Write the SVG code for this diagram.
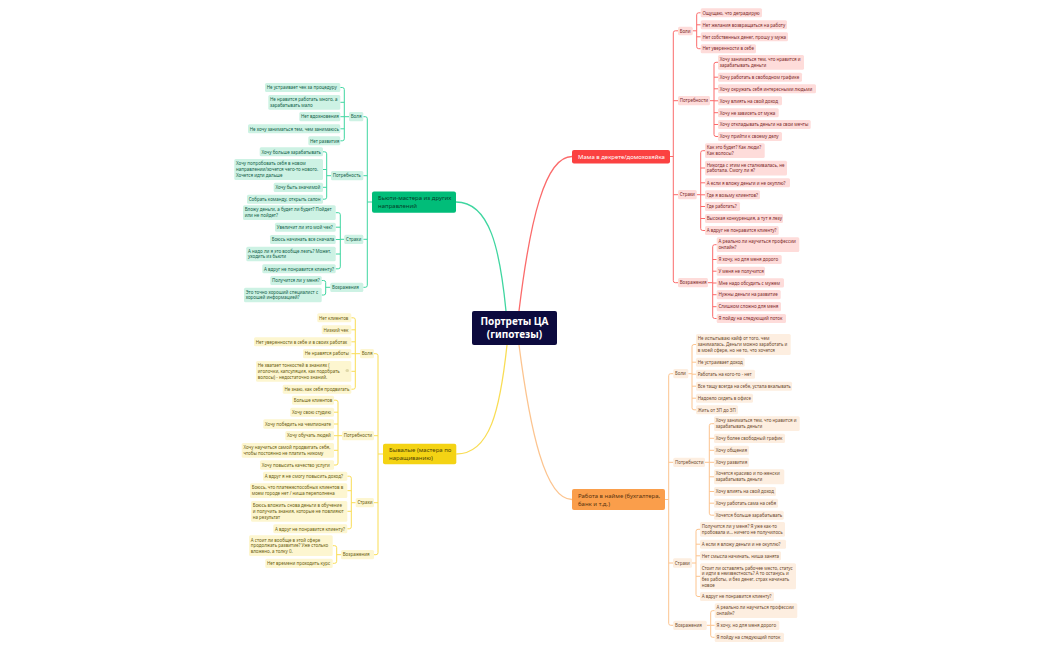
<svg xmlns="http://www.w3.org/2000/svg" width="1050" height="650" viewBox="0 0 1050 650">
<style>
text{font-family:"Noto Sans","DejaVu Sans",sans-serif;font-size:4.5px}
rect{rx:1.5px}
.r rect{fill:#fedcda}.r text{fill:#7d2b2b}
.o rect{fill:#fdeee0}.o text{fill:#6e4c30}
.g rect{fill:#cdf2e4}.g text{fill:#14624a}
.y rect{fill:#fdf6d0}.y text{fill:#6b5e10}
.c path{fill:none;stroke-width:1}
.c path.main{stroke-width:1.3}
.cr{stroke:#fb6b6b}.co{stroke:#fcc48f}.cg{stroke:#3fd6a0}.cy{stroke:#f9dd55}
.m text{font-size:6px}
.m rect{rx:2px}
#root rect{fill:#0c0a3e;rx:2px}
#root text{fill:#fff;font-size:10px;font-weight:700;text-anchor:middle}
#mom rect{fill:#fb4141}#mom text{fill:#fff}
#job rect{fill:#fa9e4b}#job text{fill:#5a3410}
#beauty rect{fill:#01bd79}#beauty text{fill:#063d2a}
#vet rect{fill:#f4d314}#vet text{fill:#4f4508}
</style>
<rect width="1050" height="650" fill="#fff" style="rx:0"/>
<g id="connectors" class="c">
<path class="cr main" d="M519 311C530 220 545 156.500 572 156.500"/>
<path class="cr" d="M670 156.500H673.300M678 30.800H675.300Q673.300 30.800 673.300 32.800V280.700Q673.300 282.700 675.300 282.700H678M673.300 100.700H678M673.300 194.700H678"/>
<path class="cr" d="M692.700 30.800H696.700M700.700 12.800H698.700Q696.700 12.800 696.700 14.800V46.700Q696.700 48.700 698.700 48.700H700.700M696.700 24.800H700.700M696.700 36.800H700.700"/>
<path class="cr" d="M710 100.700H714M718 62.300H716Q714 62.300 714 64.300V134.500Q714 136.500 716 136.500H718M714 77.200H718M714 88.800H718M714 100.800H718M714 112.700H718M714 124.500H718"/>
<path class="cr" d="M696.700 194.700H700.700M705 150.700H702.700Q700.700 150.700 700.700 152.700V228.500Q700.700 230.500 702.700 230.500H705M700.700 168H705M700.700 182.800H705M700.700 194.800H705M700.700 206.500H705M700.700 218.500H705"/>
<path class="cr" d="M708 282.700H712.700M716.700 244.700H714.700Q712.700 244.700 712.700 246.700V316.500Q712.700 318.500 714.700 318.500H716.700M712.700 259.500H716.700M712.700 271.200H716.700M712.700 283H716.700M712.700 294.700H716.700M712.700 306.700H716.700"/>
<path class="co main" d="M519 345C530 430 545 499.500 572 499.500"/>
<path class="co" d="M665 499.500H668.700M673.300 373.700H670.700Q668.700 373.700 668.700 375.700V623.300Q668.700 625.300 670.700 625.300H673.300M668.700 462.300H673.300M668.700 563H673.300"/>
<path class="co" d="M688.300 373.700H692M696 344.500H694Q692 344.500 692 346.500V407.800Q692 409.800 694 409.800H696M692 362.200H696M692 374.200H696M692 386.200H696M692 398.200H696"/>
<path class="co" d="M705 462.300H709.300M714 423.700H711.300Q709.300 423.700 709.300 425.700V513.200Q709.300 515.200 711.300 515.200H714M709.300 438.300H714M709.300 450.300H714M709.300 462.300H714M709.300 476.800H714M709.300 491.500H714M709.300 503.200H714"/>
<path class="co" d="M692 563H696M700 529.300H698Q696 529.300 696 531.300V594.500Q696 596.500 698 596.500H700M696 544.200H700M696 555.800H700M696 576.300H700"/>
<path class="co" d="M706.700 625.300H710.700M714.700 610.700H712.700Q710.700 610.700 710.700 612.700V635.300Q710.700 637.300 712.700 637.300H714.700M710.700 625.300H714.700"/>
<path class="cg main" d="M506 311C500 250 490 202 456 202"/>
<path class="cg" d="M372 202H367.300M363.300 116.700H365.300Q367.300 116.700 367.300 118.700V285.300Q367.300 287.300 365.300 287.300H363.300M367.300 175.700H363.300M367.300 239.300H363.300"/>
<path class="cg" d="M349 116.700H344.300M340.300 87.500H342.300Q344.300 87.500 344.300 89.500V138.800Q344.300 140.800 342.300 140.800H340.300M344.300 102.300H340.300M344.300 116.700H340.300M344.300 128.800H340.300"/>
<path class="cg" d="M331 175.700H326.700M323 151.800H324.700Q326.700 151.800 326.700 153.800V197.200Q326.700 199.200 324.700 199.200H323M326.700 169.500H323M326.700 187.300H323"/>
<path class="cg" d="M344.300 239.300H340.300M335.700 212.700H338.300Q340.300 212.700 340.300 214.700V266.800Q340.300 268.800 338.300 268.800H335.700M340.300 227.200H335.700M340.300 239.500H335.700M340.300 254H335.700"/>
<path class="cg" d="M330.300 287.300H325.700M321.700 280.500H323.700Q325.700 280.500 325.700 282.500V293Q325.700 295 323.700 295H321.700"/>
<path class="cy main" d="M507 345C500 410 490 454 456.300 454"/>
<path class="cy" d="M383 454H378M374 353.700H376Q378 353.700 378 355.700V552.700Q378 554.700 376 554.700H374M378 435.700H374M378 502.700H374"/>
<path class="cy" d="M360 353.700H355.300M351.300 317.800H353.300Q355.300 317.800 355.300 319.800V387.200Q355.300 389.200 353.300 389.200H351.300M355.300 329.800H351.300M355.300 341.800H351.300M355.300 353.700H351.300M355.300 371.300H351.300"/>
<path class="cy" d="M342 435.700H338M334 400.200H336Q338 400.200 338 402.200V463Q338 465 336 465H334M338 412.200H334M338 424H334M338 435.700H334M338 450.300H334"/>
<path class="cy" d="M355.700 502.700H351.300M347.300 476.200H349.300Q351.300 476.200 351.300 478.200V526.800Q351.300 528.800 349.300 528.800H347.300M351.300 490.700H347.300M351.300 511.300H347.300"/>
<path class="cy" d="M341 554.700H336.700M332.700 545.700H334.700Q336.700 545.700 336.700 547.700V561.300Q336.700 563.300 334.700 563.300H332.700"/>
</g>
<g id="root"><rect x="472" y="311" width="85" height="34"/><text x="514.500" y="325">Портреты ЦА</text><text x="514.500" y="337.500">(гипотезы)</text></g>
<g id="mom" class="m"><rect x="572" y="150" width="98" height="13.500"/><text x="578" y="158.900">Мама в декрете/домохозяйка</text></g>
<g id="job" class="m"><rect x="572" y="489" width="93" height="21"/><text x="578" y="497.700">Работа в найме (бухгалтера,</text><text x="578" y="505.700">банк и т.д.)</text></g>
<g id="beauty" class="m"><rect x="372" y="191.500" width="84" height="21.200"/><text x="378" y="200.300">Бьюти-мастера из других</text><text x="378" y="208.300">направлений</text></g>
<g id="vet" class="m"><rect x="383" y="443.700" width="73.300" height="20.600"/><text x="389" y="452.300">Бывалые (мастера по</text><text x="389" y="460.300">наращиванию)</text></g>
<g class="r">
<g id="r1"><rect x="678" y="26.700" width="14.700" height="8.500"/><text x="679.700" y="32.700">Боли</text></g>
<g id="r1a"><rect x="700.700" y="8.300" width="61.300" height="9"/><text x="702.400" y="14.500">Ощущаю, что деградирую</text></g>
<g id="r1b"><rect x="700.700" y="20.300" width="86.300" height="9"/><text x="702.400" y="26.500">Нет желания возвращаться на работу</text></g>
<g id="r1c"><rect x="700.700" y="32.300" width="87.300" height="9"/><text x="702.400" y="38.500">Нет собственных денег, прошу у мужа</text></g>
<g id="r1d"><rect x="700.700" y="44.200" width="55.300" height="9"/><text x="702.400" y="50.400">Нет уверенности в себе</text></g>
<g id="r2"><rect x="678" y="96" width="32" height="9.300"/><text x="679.700" y="102.400">Потребности</text></g>
<g id="r2a"><rect x="718" y="55" width="86" height="14.700"/><text x="719.700" y="61">Хочу заниматься тем, что нравится и</text><text x="719.700" y="66.700">зарабатывать деньги</text></g>
<g id="r2b"><rect x="718" y="72.700" width="84" height="9"/><text x="719.700" y="78.900">Хочу работать в свободном графике</text></g>
<g id="r2c"><rect x="718" y="84.300" width="98" height="9"/><text x="719.700" y="90.500">Хочу окружать себя интересными людьми</text></g>
<g id="r2d"><rect x="718" y="96.300" width="64" height="9"/><text x="719.700" y="102.500">Хочу влиять на свой доход</text></g>
<g id="r2e"><rect x="718" y="108.300" width="60.700" height="9"/><text x="719.700" y="114.500">Хочу не зависеть от мужа</text></g>
<g id="r2f"><rect x="718" y="120" width="92.700" height="9"/><text x="719.700" y="126.200">Хочу откладывать деньги на свои мечты</text></g>
<g id="r2g"><rect x="718" y="132" width="64" height="9"/><text x="719.700" y="138.200">Хочу прийти к своему делу</text></g>
<g id="r3"><rect x="678" y="190" width="18.700" height="9.300"/><text x="679.700" y="196.400">Страхи</text></g>
<g id="r3a"><rect x="705" y="143.300" width="59.700" height="14.700"/><text x="706.700" y="149.300">Как это будет? Как люди?</text><text x="706.700" y="155">Как волосы?</text></g>
<g id="r3b"><rect x="705" y="160.700" width="82" height="14.700"/><text x="706.700" y="166.700">Никогда с этим не сталкивалась, не</text><text x="706.700" y="172.400">работала. Смогу ли я?</text></g>
<g id="r3c"><rect x="705" y="178.300" width="85" height="9"/><text x="706.700" y="184.500">А если я вложу деньги и не окуплю?</text></g>
<g id="r3d"><rect x="705" y="190.300" width="55" height="9"/><text x="706.700" y="196.500">Где я возьму клиентов?</text></g>
<g id="r3e"><rect x="705" y="202" width="35" height="9"/><text x="706.700" y="208.200">Где работать?</text></g>
<g id="r3f"><rect x="705" y="214" width="78" height="9"/><text x="706.700" y="220.200">Высокая конкуренция, а тут я лезу</text></g>
<g id="r3g"><rect x="705" y="226" width="73.700" height="9"/><text x="706.700" y="232.200">А вдруг не понравится клиенту?</text></g>
<g id="r4"><rect x="678" y="278" width="30" height="9.300"/><text x="679.700" y="284.400">Возражения</text></g>
<g id="r4a"><rect x="716.700" y="237.300" width="82.600" height="14.700"/><text x="718.400" y="243.300">А реально ли научиться профессии</text><text x="718.400" y="249">онлайн?</text></g>
<g id="r4b"><rect x="716.700" y="255" width="65" height="9"/><text x="718.400" y="261.200">Я хочу, но для меня дорого</text></g>
<g id="r4c"><rect x="716.700" y="266.700" width="48.300" height="9"/><text x="718.400" y="272.900">У меня не получится</text></g>
<g id="r4d"><rect x="716.700" y="278.300" width="67.300" height="9.300"/><text x="718.400" y="284.700">Мне надо обсудить с мужем</text></g>
<g id="r4e"><rect x="716.700" y="290" width="64" height="9.300"/><text x="718.400" y="296.400">Нужны деньги на развитие</text></g>
<g id="r4f"><rect x="716.700" y="302" width="64.300" height="9.300"/><text x="718.400" y="308.400">Слишком сложно для меня</text></g>
<g id="r4g"><rect x="716.700" y="314" width="69.300" height="9"/><text x="718.400" y="320.200">Я пойду на следующий поток</text></g>
</g>
<g class="o">
<g id="o1"><rect x="673.300" y="369" width="15" height="9.300"/><text x="675" y="375.400">Боли</text></g>
<g id="o1a"><rect x="696" y="334" width="94.700" height="21"/><text x="697.700" y="340.200">Не испытываю кайф от того, чем</text><text x="697.700" y="345.900">занималась. Деньги можно заработать и</text><text x="697.700" y="351.600">в моей сфере, но не то, что хочется</text></g>
<g id="o1b"><rect x="696" y="357.700" width="48.700" height="9"/><text x="697.700" y="363.900">Не устраивает доход</text></g>
<g id="o1c"><rect x="696" y="369.700" width="59" height="9"/><text x="697.700" y="375.900">Работать на кого-то - нет</text></g>
<g id="o1d"><rect x="696" y="381.700" width="96" height="9"/><text x="697.700" y="387.900">Все тащу всегда на себе, устала вкалывать</text></g>
<g id="o1e"><rect x="696" y="393.700" width="57" height="9"/><text x="697.700" y="399.900">Надоело сидеть в офисе</text></g>
<g id="o1f"><rect x="696" y="405.300" width="42" height="9"/><text x="697.700" y="411.500">Жить от ЗП до ЗП</text></g>
<g id="o2"><rect x="673.300" y="457.700" width="31.700" height="9.300"/><text x="675" y="464.100">Потребности</text></g>
<g id="o2a"><rect x="714" y="416.300" width="85.700" height="14.700"/><text x="715.700" y="422.300">Хочу заниматься тем, что нравится и</text><text x="715.700" y="428">зарабатывать деньги</text></g>
<g id="o2b"><rect x="714" y="433.700" width="71" height="9.300"/><text x="715.700" y="440.100">Хочу более свободный график</text></g>
<g id="o2c"><rect x="714" y="445.700" width="35" height="9.300"/><text x="715.700" y="452.100">Хочу общения</text></g>
<g id="o2d"><rect x="714" y="457.700" width="35" height="9.300"/><text x="715.700" y="464.100">Хочу развития</text></g>
<g id="o2e"><rect x="714" y="469.300" width="70.300" height="15"/><text x="715.700" y="475.300">Хочется красиво и по-женски</text><text x="715.700" y="481">зарабатывать деньги</text></g>
<g id="o2f"><rect x="714" y="487" width="62" height="9"/><text x="715.700" y="493.200">Хочу влиять на свой доход</text></g>
<g id="o2g"><rect x="714" y="498.700" width="64" height="9"/><text x="715.700" y="504.900">Хочу работать сама на себя</text></g>
<g id="o2h"><rect x="714" y="510.700" width="69.700" height="9"/><text x="715.700" y="516.900">Хочется больше зарабатывать</text></g>
<g id="o3"><rect x="673" y="558.300" width="19" height="9.400"/><text x="674.700" y="564.800">Страхи</text></g>
<g id="o3a"><rect x="700" y="522" width="85" height="14.700"/><text x="701.700" y="528">Получится ли у меня? Я уже как-то</text><text x="701.700" y="533.700">пробовала и... ничего не получилось</text></g>
<g id="o3b"><rect x="700" y="539.700" width="86" height="9"/><text x="701.700" y="545.900">А если я вложу деньги и не окуплю?</text></g>
<g id="o3c"><rect x="700" y="551.300" width="81" height="9"/><text x="701.700" y="557.500">Нет смысла начинать, ниша занята</text></g>
<g id="o3d"><rect x="700" y="563.300" width="96" height="26"/><text x="701.700" y="569.500">Стоит ли оставлять рабочее место, статус</text><text x="701.700" y="575.200">и идти в неизвестность? А то останусь и</text><text x="701.700" y="580.900">без работы, и без денег, страх начинать</text><text x="701.700" y="586.600">новое</text></g>
<g id="o3e"><rect x="700" y="592" width="74" height="9"/><text x="701.700" y="598.200">А вдруг не понравится клиенту?</text></g>
<g id="o4"><rect x="673.300" y="620.700" width="33.400" height="9.300"/><text x="675" y="627.100">Возражения</text></g>
<g id="o4a"><rect x="714.700" y="603.300" width="82.600" height="14.700"/><text x="716.400" y="609.300">А реально ли научиться профессии</text><text x="716.400" y="615">онлайн?</text></g>
<g id="o4b"><rect x="714.700" y="620.700" width="64.600" height="9.300"/><text x="716.400" y="627.100">Я хочу, но для меня дорого</text></g>
<g id="o4c"><rect x="714.700" y="632.700" width="69.300" height="9.300"/><text x="716.400" y="639.100">Я пойду на следующий поток</text></g>
</g>
<g class="g">
<g id="g1"><rect x="349" y="112" width="14.300" height="9.300"/><text x="350.700" y="118.400">Воля</text></g>
<g id="g1a"><rect x="265" y="83" width="75.300" height="9"/><text x="266.700" y="89.200">Не устраивает чек за процедуру</text></g>
<g id="g1b"><rect x="268.300" y="95" width="72" height="14.700"/><text x="270" y="101">Не нравится работать много, а</text><text x="270" y="106.700">зарабатывать мало</text></g>
<g id="g1c"><rect x="299.300" y="112" width="41" height="9.300"/><text x="301" y="118.400">Нет вдохновения</text></g>
<g id="g1d"><rect x="248" y="124.300" width="92.300" height="9"/><text x="249.700" y="130.500">Не хочу заниматься тем, чем занимаюсь</text></g>
<g id="g1e"><rect x="308.300" y="136.300" width="32" height="9"/><text x="310" y="142.500">Нет развития</text></g>
<g id="g2"><rect x="331" y="171" width="32.300" height="9.300"/><text x="332.700" y="177.400">Потребность</text></g>
<g id="g2a"><rect x="259.700" y="147.300" width="63.300" height="9"/><text x="261.400" y="153.500">Хочу больше зарабатывать</text></g>
<g id="g2b"><rect x="234.300" y="159" width="88.700" height="21"/><text x="236" y="165.200">Хочу попробовать себя в новом</text><text x="236" y="170.900">направлении/хочется чего-то нового.</text><text x="236" y="176.600">Хочется идти дальше</text></g>
<g id="g2c"><rect x="273.700" y="182.700" width="49.300" height="9.300"/><text x="275.400" y="189.100">Хочу быть значимой</text></g>
<g id="g2d"><rect x="247" y="194.700" width="76" height="9"/><text x="248.700" y="200.900">Собрать команду, открыть салон</text></g>
<g id="g3"><rect x="344.300" y="234.700" width="19" height="9.300"/><text x="346" y="241.100">Страхи</text></g>
<g id="g3a"><rect x="243" y="205.300" width="92.700" height="14.700"/><text x="244.700" y="211.300">Вложу деньги, а будет ли будет? Пойдет</text><text x="244.700" y="217">или не пойдет?</text></g>
<g id="g3b"><rect x="275" y="222.700" width="60.700" height="9"/><text x="276.700" y="228.900">Увеличит ли это мой чек?</text></g>
<g id="g3c"><rect x="270" y="235" width="65.700" height="9"/><text x="271.700" y="241.200">Боюсь начинать все сначала</text></g>
<g id="g3d"><rect x="246.300" y="246.700" width="89.400" height="14.600"/><text x="248" y="252.700">А надо ли я это вообще лезть? Может,</text><text x="248" y="258.400">уходить из бьюти</text></g>
<g id="g3e"><rect x="262.300" y="264.300" width="73.400" height="9"/><text x="264" y="270.500">А вдруг не понравится клиенту?</text></g>
<g id="g4"><rect x="330.300" y="282.700" width="33" height="9.300"/><text x="332" y="289.100">Возражения</text></g>
<g id="g4a"><rect x="270.300" y="276" width="51.400" height="9"/><text x="272" y="282.200">Получится ли у меня?</text></g>
<g id="g4b"><rect x="244" y="287.700" width="77.700" height="14.600"/><text x="245.700" y="293.700">Это точно хороший специалист с</text><text x="245.700" y="299.400">хорошей информацией?</text></g>
</g>
<g class="y">
<g id="y1"><rect x="360" y="349" width="14" height="9.300"/><text x="361.700" y="355.400">Воля</text></g>
<g id="y1a"><rect x="317.300" y="313.300" width="34" height="9"/><text x="319" y="319.500">Нет клиентов</text></g>
<g id="y1b"><rect x="321.700" y="325.300" width="29.600" height="9"/><text x="323.400" y="331.500">Низкий чек</text></g>
<g id="y1c"><rect x="254" y="337.300" width="97.300" height="9"/><text x="255.700" y="343.500">Нет уверенности в себе и в своих работах</text></g>
<g id="y1d"><rect x="303" y="349" width="48.300" height="9.300"/><text x="304.700" y="355.400">Не нравятся работы</text></g>
<g id="y1e"><rect x="256" y="361" width="95.300" height="20.700"/><text x="257.700" y="367.200">Не хватает тонкостей в знаниях (</text><text x="257.700" y="372.900">иголочки, капсуляция, как подобрать</text><text x="257.700" y="378.600">волосы) - недостаточно знаний.</text><rect x="345.500" y="369" width="3.500" height="3" style="fill:#e0d8a8"/></g>
<g id="y1f"><rect x="282.700" y="384.700" width="68.600" height="9"/><text x="284.400" y="390.900">Не знаю, как себя продвигать</text></g>
<g id="y2"><rect x="342" y="431" width="32" height="9.300"/><text x="343.700" y="437.400">Потребности</text></g>
<g id="y2a"><rect x="292" y="395.700" width="42" height="9"/><text x="293.700" y="401.900">Больше клиентов</text></g>
<g id="y2b"><rect x="290.300" y="407.700" width="43.700" height="9"/><text x="292" y="413.900">Хочу свою студию</text></g>
<g id="y2c"><rect x="263.300" y="419.300" width="70.700" height="9.400"/><text x="265" y="425.800">Хочу победить на чемпионате</text></g>
<g id="y2d"><rect x="285.300" y="431" width="48.700" height="9.300"/><text x="287" y="437.400">Хочу обучать людей</text></g>
<g id="y2e"><rect x="241.700" y="443" width="92.300" height="14.700"/><text x="243.400" y="449">Хочу научиться самой продвигать себя,</text><text x="243.400" y="454.700">чтобы постоянно не платить никому</text></g>
<g id="y2f"><rect x="260" y="460.300" width="74" height="9.400"/><text x="261.700" y="466.800">Хочу повысить качество услуги</text></g>
<g id="y3"><rect x="355.700" y="498" width="18.300" height="9.300"/><text x="357.400" y="504.400">Страхи</text></g>
<g id="y3a"><rect x="263" y="471.700" width="84.300" height="9"/><text x="264.700" y="477.900">А вдруг я не смогу повысить доход?</text></g>
<g id="y3b"><rect x="250" y="483.300" width="97.300" height="14.700"/><text x="251.700" y="489.300">Боюсь, что платежеспособных клиентов в</text><text x="251.700" y="495">моем городе нет / ниша переполнена</text></g>
<g id="y3c"><rect x="251" y="501" width="96.300" height="20.700"/><text x="252.700" y="507.200">Боюсь вложить снова деньги в обучение</text><text x="252.700" y="512.900">и получить знания, которые не повлияют</text><text x="252.700" y="518.600">на результат</text></g>
<g id="y3d"><rect x="273.300" y="524.300" width="74" height="9"/><text x="275" y="530.500">А вдруг не понравится клиенту?</text></g>
<g id="y4"><rect x="341" y="550" width="33" height="9.300"/><text x="342.700" y="556.400">Возражения</text></g>
<g id="y4a"><rect x="249" y="535.300" width="83.700" height="20.700"/><text x="250.700" y="541.500">А стоит ли вообще в этой сфере</text><text x="250.700" y="547.200">продолжать развитие? Уже столько</text><text x="250.700" y="552.900">вложено, а толку 0.</text></g>
<g id="y4b"><rect x="265.300" y="558.700" width="67.400" height="9.300"/><text x="267" y="565.100">Нет времени проходить курс</text></g>
</g>
</svg>
